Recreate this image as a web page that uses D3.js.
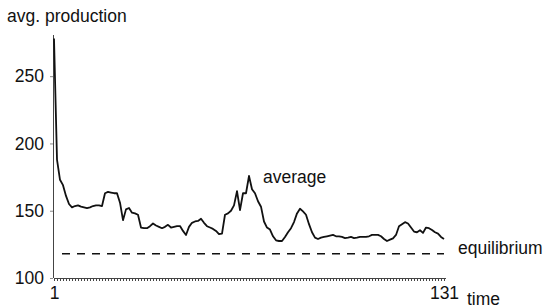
<!DOCTYPE html>
<html>
<head>
<meta charset="utf-8">
<script src="https://cdn.jsdelivr.net/npm/d3@7/dist/d3.min.js"></script>
<style>
  body { margin: 0; background: #fff; }
  svg text { font-family: "Liberation Sans", Arial, sans-serif; fill: #111; }
</style>
</head>
<body>
<div id="chart"></div>
<script>
const width = 545, height = 308;
const margin = { left: 54, top: 35 };

// average production per time step
const production = [
  278, 188, 173, 169, 161, 155, 152.5, 153.5, 154, 153,
  152.5, 152, 152.5, 153.5, 154, 154, 153.5, 163, 164, 163.5,
  163, 163, 156, 143, 151, 152, 148.5, 148, 147, 137.5,
  137, 137, 138.5, 140.5, 139, 138, 137, 138, 139.5, 137.5,
  138, 138.5, 138.6, 135, 132, 138, 141, 142, 142.4, 144,
  141, 138.5, 137.5, 136.5, 135, 132.7, 133, 147, 148, 150,
  154, 164.6, 150.5, 163, 163, 175.8, 166, 163, 157, 153,
  142, 137.5, 136, 131, 128, 127.5, 127.5, 130.5, 134, 137,
  141.6, 148, 151.5, 149.5, 147, 140, 134, 130, 129, 130,
  130.5, 131, 131.5, 132, 131, 131, 130.5, 129.7, 130, 130.5,
  129.7, 130, 130.5, 130.5, 130.5, 131, 132, 132, 132, 131,
  129, 127.5, 128.5, 129.5, 132, 138.5, 140, 141.5, 140.5, 137.5,
  134.5, 134, 135.5, 133.5, 137.5, 137, 135.7, 134, 133, 130.5,
  129
];
const equilibrium = 118;
const yTicks = [100, 150, 200, 250];
const xLabels = [1, 131];
const time = d3.range(1, production.length + 1);

const svg = d3.select("#chart").append("svg")
  .attr("width", width)
  .attr("height", height);

const g = svg.append("g")
  .attr("transform", `translate(${margin.left}, ${margin.top})`);

const x = d3.scaleLinear().domain([1, 131]).range([0, 390]);
const y = d3.scaleLinear().domain([100, 280.6]).range([243, 0]);

// axes
const xAxis = g.append("g")
  .attr("transform", `translate(0, ${y(100)})`)
  .call(d3.axisBottom(x)
    .tickValues(time)
    .tickSize(3)
    .tickSizeOuter(0)
    .tickFormat(d => xLabels.includes(d) ? d : ""));
xAxis.select(".domain").attr("stroke", "#444").attr("d", `M0,0.5H${x(131) + 2}`);
xAxis.selectAll(".tick line").attr("stroke", "#444");
xAxis.selectAll(".tick text")
  .style("font-size", "17.5px")
  .attr("y", 9)
  .attr("dy", "0.71em");

const yAxis = g.append("g")
  .attr("transform", "translate(-1, 0)")
  .call(d3.axisLeft(y)
    .tickValues(yTicks)
    .tickSize(3)
    .tickSizeOuter(0)
    .tickPadding(6));
yAxis.select(".domain").attr("stroke", "#444").attr("d", `M0.5,${y(100)}V0`);
yAxis.selectAll(".tick line").attr("stroke", "#888");
yAxis.selectAll(".tick text").style("font-size", "17.5px");

// equilibrium
g.append("line")
  .attr("x1", 8)
  .attr("x2", x(131))
  .attr("y1", y(equilibrium))
  .attr("y2", y(equilibrium))
  .attr("stroke", "#111")
  .attr("stroke-width", 1.5)
  .attr("stroke-dasharray", "8,7");

// average line
const line = d3.line()
  .x((d, i) => x(time[i]))
  .y(d => y(d));

g.append("path")
  .datum(production)
  .attr("d", line)
  .attr("fill", "none")
  .attr("stroke", "#111")
  .attr("stroke-width", 1.8)
  .attr("stroke-linejoin", "round");

// labels
svg.append("text").attr("x", 7).attr("y", 22)
  .style("font-size", "17.5px").text("avg. production");
svg.append("text").attr("x", 263).attr("y", 183)
  .style("font-size", "17.5px").text("average");
svg.append("text").attr("x", 458).attr("y", 254)
  .style("font-size", "17.5px").text("equilibrium");
svg.append("text").attr("x", 467).attr("y", 305)
  .style("font-size", "17.5px").text("time");
</script>
</body>
</html>
